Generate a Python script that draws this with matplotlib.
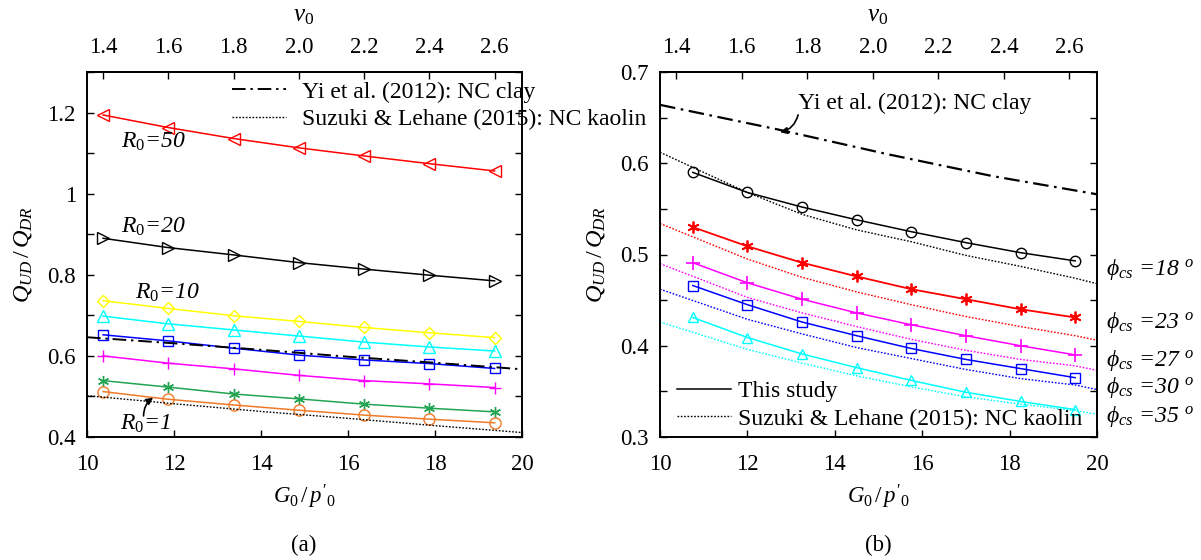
import matplotlib
matplotlib.use("Agg")
import matplotlib.pyplot as plt
import numpy as np
from matplotlib.lines import Line2D

plt.rcParams['font.family'] = ['Liberation Serif', 'DejaVu Serif']
plt.rcParams['mathtext.fontset'] = 'custom'
plt.rcParams['mathtext.rm'] = 'Liberation Serif'
plt.rcParams['mathtext.it'] = 'Liberation Serif:italic'
plt.rcParams['mathtext.bf'] = 'Liberation Serif:bold'

# ---------------- data: panel (a) ----------------
G_a = [10.37, 11.87, 13.37, 14.87, 16.37, 17.87, 19.37]
r50 = [1.194, 1.163, 1.136, 1.113, 1.093, 1.074, 1.056]
r20 = [0.890, 0.867, 0.849, 0.830, 0.814, 0.799, 0.785]
r10 = [0.736, 0.717, 0.699, 0.685, 0.670, 0.657, 0.645]
r_cyan = [0.698, 0.679, 0.664, 0.649, 0.634, 0.622, 0.612]
r_blue = [0.652, 0.637, 0.619, 0.602, 0.590, 0.581, 0.569]
r_mag = [0.600, 0.582, 0.568, 0.552, 0.539, 0.531, 0.522]
r_green = [0.539, 0.523, 0.506, 0.494, 0.481, 0.471, 0.462]
r1 = [0.512, 0.493, 0.479, 0.466, 0.454, 0.444, 0.435]
G_ref_a = [10, 12, 14, 16, 18, 20]
yi_a = [0.646, 0.631, 0.615, 0.598, 0.583, 0.567]
suz_a = [0.502, 0.482, 0.463, 0.446, 0.428, 0.411]

# ---------------- data: panel (b) ----------------
G_b = [10.75, 12.0, 13.25, 14.5, 15.75, 17.0, 18.25, 19.5]
phi18 = [0.590, 0.568, 0.552, 0.538, 0.525, 0.513, 0.502, 0.493]
phi23 = [0.530, 0.509, 0.491, 0.476, 0.462, 0.451, 0.440, 0.431]
phi27 = [0.491, 0.469, 0.451, 0.436, 0.423, 0.411, 0.400, 0.390]
phi30 = [0.466, 0.445, 0.426, 0.411, 0.397, 0.385, 0.375, 0.365]
phi35 = [0.431, 0.409, 0.391, 0.376, 0.362, 0.349, 0.339, 0.330]
G_dot = [10, 12, 13.25, 14.5, 15.75, 17, 18.25, 19.5, 20]
suz18 = [0.612, 0.568, 0.544, 0.527, 0.514, 0.499, 0.487, 0.474, 0.468]
suz23 = [0.534, 0.495, 0.475, 0.459, 0.445, 0.432, 0.421, 0.411, 0.406]
suz27 = [0.490, 0.453, 0.436, 0.421, 0.407, 0.395, 0.385, 0.378, 0.373]
suz30 = [0.462, 0.429, 0.413, 0.398, 0.386, 0.374, 0.364, 0.357, 0.352]
suz35 = [0.426, 0.396, 0.381, 0.367, 0.355, 0.344, 0.336, 0.329, 0.325]
G_yi_b = [10, 12.7, 15.2, 17.6, 20]
yi_b = [0.664, 0.637, 0.610, 0.586, 0.566]

v0_ticks = [1.4, 1.6, 1.8, 2.0, 2.2, 2.4, 2.6]
phi_labels = ['18', '23', '27', '30', '35']
phi_label_y = [0.484, 0.425, 0.384, 0.354, 0.323]

def g2v(g):
    return 1.4 + (np.asarray(g) - 10.37) / 7.5

def v2g(v):
    return 10.37 + (np.asarray(v) - 1.4) * 7.5

FS = 16.5
LW = 1.1
DASHDOT = (0, (7, 2.5, 1.2, 2.5))
DOT = (0, (1.2, 1.2))

fig = plt.figure(figsize=(12.01, 5.6), dpi=100)
axA = fig.add_axes([87/1201, 123/560, 435/1201, 365/560])
axB = fig.add_axes([660/1201, 123/560, 437/1201, 365/560])

def style_axes(ax, ymin, ymax):
    ax.set_xlim(10, 20)
    ax.set_ylim(ymin, ymax)
    ax.set_xticks([10, 12, 14, 16, 18, 20])
    ax.tick_params(axis='both', direction='in', length=5, width=1.0, labelsize=FS,
                   right=True, top=False)
    ax.tick_params(axis='x', pad=12)
    ax.tick_params(axis='y', pad=8)
    for s in ax.spines.values():
        s.set_linewidth(1.4)
    ax.set_xlabel(r"$G_{\mathit{0}}\,/\,p'_{\mathit{0}}$", fontsize=FS)
    ax.xaxis.set_label_coords(0.5, -60/365)
    ax.xaxis.label.set_va('center')
    ax.set_ylabel(r"$Q_{UD}\,/\,Q_{DR}$", fontsize=FS + 1)
    sec = ax.secondary_xaxis('top', functions=(g2v, v2g))
    sec.set_xticks(v0_ticks)
    sec.set_xticklabels(['%.1f' % v for v in v0_ticks])
    sec.tick_params(direction='in', length=5, width=1.0, labelsize=FS, pad=10)
    sec.spines['top'].set_linewidth(1.4)
    return sec

style_axes(axA, 0.4, 1.3)
axA.yaxis.set_label_coords(-64/435, 0.5)
axA.yaxis.label.set_va('center')
axA.set_yticks(np.round(np.arange(0.4, 1.30001, 0.1), 2))
axA.set_yticklabels(['0.4', '', '0.6', '', '0.8', '', '1', '', '1.2', ''])

style_axes(axB, 0.3, 0.7)
axB.yaxis.set_label_coords(-64/437, 0.5)
axB.yaxis.label.set_va('center')
axB.set_yticks(np.round(np.arange(0.3, 0.70001, 0.05), 2))
axB.set_yticklabels(['0.3', '', '0.4', '', '0.5', '', '0.6', '', '0.7'])

# top-axis titles (v0)
fig.text(304/1201, 1 - 16/560, r"$v_{\mathit{0}}$", fontsize=FS + 1.5, ha='center', va='center')
fig.text(878/1201, 1 - 16/560, r"$v_{\mathit{0}}$", fontsize=FS + 1.5, ha='center', va='center')

# ---------------- panel (a) curves ----------------
ms = 8
axA.plot(G_a, r50, color='#ff0000', lw=LW, marker='<', ms=ms, mfc='none', mew=1.0)
axA.plot(G_a, r20, color='black', lw=LW, marker='>', ms=ms, mfc='none', mew=1.0)
axA.plot(G_a, r10, color='#ffff00', lw=LW, marker='D', ms=6.5, mfc='none', mew=1.0)
axA.plot(G_a, r_cyan, color='#00ffff', lw=LW, marker='^', ms=ms, mfc='none', mew=1.0)
axA.plot(G_a, r_blue, color='#0000ff', lw=LW, marker='s', ms=7, mfc='none', mew=1.0)
axA.plot(G_a, r_mag, color='#ff00ff', lw=LW, marker='+', ms=9, mew=1.0)
axA.plot(G_a, r_green, color='#22a352', lw=LW, marker=(6, 2, 0), ms=8, mew=1.0)
axA.plot(G_a, r1, color='#f07a28', lw=LW, marker='o', ms=ms, mfc='none', mew=1.0)
axA.plot(G_ref_a, yi_a, color='black', lw=1.4, ls=DASHDOT, label='Yi et al. (2012): NC clay')
axA.plot(G_ref_a, suz_a, color='black', lw=1.0, ls=DOT, label='Suzuki & Lehane (2015): NC kaolin')

leg = axA.legend(loc='upper left', bbox_to_anchor=(0.333, 0.975), frameon=False,
                 fontsize=FS + 0.5, borderpad=0, borderaxespad=0, handlelength=2.3,
                 handletextpad=0.65, labelspacing=0.25)
leg.set_clip_on(False)

lab_kw = dict(fontsize=FS + 0.5, style='italic', va='center', ha='left')
axA.text(10.78, 1.127, r'$R_{\mathit{0}}$=50', **lab_kw)
axA.text(10.78, 0.918, r'$R_{\mathit{0}}$=20', **lab_kw)
axA.text(11.10, 0.755, r'$R_{\mathit{0}}$=10', **lab_kw)
axA.text(10.76, 0.432, r'$R_{\mathit{0}}$=1', **lab_kw)
axA.annotate('', xy=(11.52, 0.497), xytext=(11.30, 0.452),
             arrowprops=dict(arrowstyle='-|>', color='black', lw=1.2,
                             connectionstyle='arc3,rad=-0.25', mutation_scale=10,
                             shrinkA=0, shrinkB=0))

# ---------------- panel (b) curves ----------------
axB.plot(G_b, phi18, color='black', lw=LW, marker='o', ms=7.5, mfc='none', mew=1.0)
axB.plot(G_b, phi23, color='#ff0000', lw=LW + 0.2, marker=(6, 2, 0), ms=8.5, mew=1.3)
axB.plot(G_b, phi27, color='#ff00ff', lw=LW, marker='+', ms=10, mew=1.2)
axB.plot(G_b, phi30, color='#0000ff', lw=LW, marker='s', ms=7.5, mfc='none', mew=1.0)
axB.plot(G_b, phi35, color='#00ffff', lw=LW, marker='^', ms=7.5, mfc='none', mew=1.0)
axB.plot(G_dot, suz18, color='black', lw=1.0, ls=DOT)
axB.plot(G_dot, suz23, color='#ff0000', lw=1.0, ls=DOT)
axB.plot(G_dot, suz27, color='#ff00ff', lw=1.0, ls=DOT)
axB.plot(G_dot, suz30, color='#0000ff', lw=1.0, ls=DOT)
axB.plot(G_dot, suz35, color='#00ffff', lw=1.0, ls=DOT)
axB.plot(G_yi_b, yi_b, color='black', lw=1.6, ls=DASHDOT)

handles = [Line2D([], [], color='black', lw=LW), Line2D([], [], color='black', lw=1.0, ls=DOT)]
labels = ['This study', 'Suzuki & Lehane (2015): NC kaolin']
axB.legend(handles, labels, loc='lower left', bbox_to_anchor=(0.039, 0.02), frameon=False,
           fontsize=FS + 0.5, borderpad=0, borderaxespad=0, handlelength=2.3,
           handletextpad=0.3, labelspacing=0.25)

axB.text(13.16, 0.666, 'Yi et al. (2012): NC clay', fontsize=FS + 0.5, ha='left', va='center')
axB.annotate('', xy=(12.75, 0.634), xytext=(13.16, 0.653),
             arrowprops=dict(arrowstyle='-|>', color='black', lw=1.2,
                             connectionstyle='arc3,rad=-0.3', mutation_scale=10,
                             shrinkA=0, shrinkB=0))

for lbl, yv in zip(phi_labels, phi_label_y):
    axB.text(20.2, yv, r'$\phi_{cs}$ =' + lbl + r' $^{o}$', fontsize=FS + 0.5, style='italic',
             ha='left', va='center', clip_on=False)

fig.text(304/1201, 1 - 545/560, '(a)', fontsize=FS, ha='center', va='center')
fig.text(878/1201, 1 - 545/560, '(b)', fontsize=FS, ha='center', va='center')

fig.savefig('out.png', dpi=100)
